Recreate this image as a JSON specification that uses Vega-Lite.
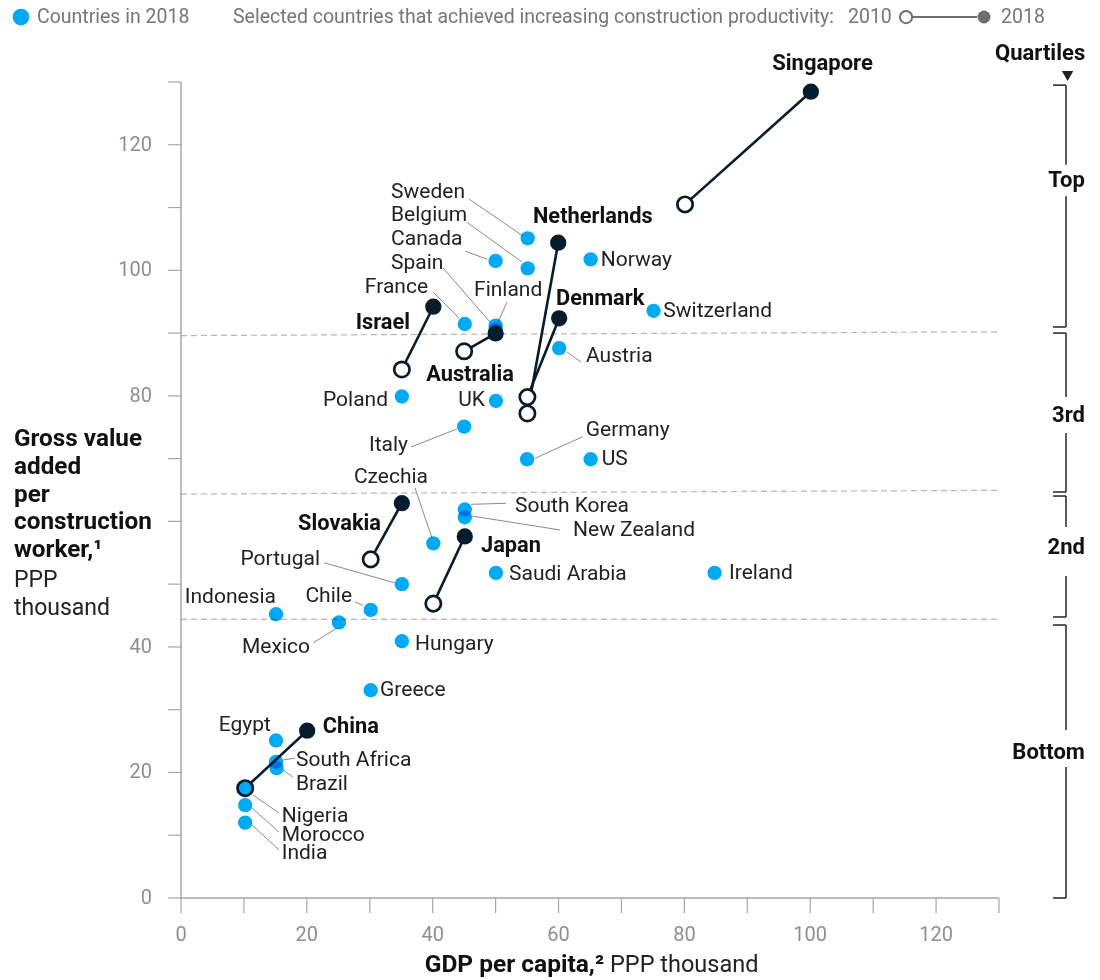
{
  "$schema": "https://vega.github.io/schema/vega-lite/v6.json",
  "width": 818,
  "height": 816,
  "autosize": {"type": "none"},
  "padding": {"left": 181, "top": 82, "right": 101, "bottom": 82},
  "background": "white",
  "config": {"view": {"stroke": null}, "font": "Roboto"},
  "datasets": {
    "ticks": [
      {"v": 0}, {"v": 10}, {"v": 20}, {"v": 30}, {"v": 40}, {"v": 50}, {"v": 60},
      {"v": 70}, {"v": 80}, {"v": 90}, {"v": 100}, {"v": 110}, {"v": 120}, {"v": 130}
    ],
    "blue": [
      {"country": "Sweden", "x": 55.1, "y": 105.1},
      {"country": "Belgium", "x": 55.1, "y": 100.3},
      {"country": "Canada", "x": 50.0, "y": 101.5},
      {"country": "Norway", "x": 65.1, "y": 101.75},
      {"country": "Switzerland", "x": 75.1, "y": 93.55},
      {"country": "France", "x": 45.1, "y": 91.45},
      {"country": "Finland", "x": 50.0, "y": 91.2},
      {"country": "Spain", "x": 50.0, "y": 90.6},
      {"country": "Austria", "x": 60.1, "y": 87.6},
      {"country": "Poland", "x": 35.1, "y": 79.9},
      {"country": "UK", "x": 50.05, "y": 79.2},
      {"country": "Italy", "x": 45.0, "y": 75.1},
      {"country": "Germany", "x": 55.0, "y": 69.9},
      {"country": "US", "x": 65.1, "y": 69.9},
      {"country": "South Korea", "x": 45.1, "y": 61.9},
      {"country": "New Zealand", "x": 45.1, "y": 60.65},
      {"country": "Czechia", "x": 40.1, "y": 56.5},
      {"country": "Portugal", "x": 35.1, "y": 50.0},
      {"country": "Saudi Arabia", "x": 50.05, "y": 51.8},
      {"country": "Ireland", "x": 84.8, "y": 51.8},
      {"country": "Indonesia", "x": 15.1, "y": 45.2},
      {"country": "Chile", "x": 30.15, "y": 45.9},
      {"country": "Mexico", "x": 25.1, "y": 43.9},
      {"country": "Hungary", "x": 35.1, "y": 40.9},
      {"country": "Greece", "x": 30.15, "y": 33.1},
      {"country": "Egypt", "x": 15.1, "y": 25.1},
      {"country": "South Africa", "x": 15.1, "y": 21.7},
      {"country": "Brazil", "x": 15.2, "y": 20.7},
      {"country": "Nigeria", "x": 10.2, "y": 17.5},
      {"country": "Morocco", "x": 10.2, "y": 14.8},
      {"country": "India", "x": 10.2, "y": 12.0}
    ],
    "sel": [
      {"country": "Singapore", "x": 80.1, "y": 110.5, "x2": 100.1, "y2": 128.45},
      {"country": "Netherlands", "x": 55.05, "y": 77.2, "x2": 59.95, "y2": 104.4},
      {"country": "Denmark", "x": 55.05, "y": 79.8, "x2": 60.1, "y2": 92.35},
      {"country": "Israel", "x": 35.1, "y": 84.2, "x2": 40.1, "y2": 94.2},
      {"country": "Australia", "x": 45.0, "y": 87.1, "x2": 50.0, "y2": 89.95},
      {"country": "Slovakia", "x": 30.15, "y": 53.95, "x2": 35.1, "y2": 62.9},
      {"country": "Japan", "x": 40.1, "y": 46.9, "x2": 45.1, "y2": 57.6},
      {"country": "China", "x": 10.2, "y": 17.5, "x2": 20.05, "y2": 26.65}
    ],
    "labL": [
      {"t": "Norway", "x": 66.7, "y": 101.7},
      {"t": "Switzerland", "x": 76.65, "y": 93.5},
      {"t": "Austria", "x": 64.37, "y": 86.27},
      {"t": "Germany", "x": 64.32, "y": 74.48},
      {"t": "US", "x": 66.86, "y": 69.94},
      {"t": "South Korea", "x": 53.08, "y": 62.53},
      {"t": "New Zealand", "x": 62.3, "y": 58.55},
      {"t": "Saudi Arabia", "x": 52.13, "y": 51.62},
      {"t": "Ireland", "x": 87.1, "y": 51.8},
      {"t": "Hungary", "x": 37.19, "y": 40.39},
      {"t": "Greece", "x": 31.63, "y": 33.06},
      {"t": "South Africa", "x": 18.28, "y": 21.91},
      {"t": "Brazil", "x": 18.28, "y": 18.24},
      {"t": "Nigeria", "x": 16.0, "y": 13.14},
      {"t": "Morocco", "x": 16.0, "y": 10.04},
      {"t": "India", "x": 16.0, "y": 7.2},
      {"t": "Sweden", "x": 33.38, "y": 112.55},
      {"t": "Belgium", "x": 33.38, "y": 108.8},
      {"t": "Canada", "x": 33.38, "y": 104.99},
      {"t": "Spain", "x": 33.38, "y": 101.16},
      {"t": "Finland", "x": 46.57, "y": 96.86}
    ],
    "labR": [
      {"t": "France", "x": 39.26, "y": 97.34},
      {"t": "Poland", "x": 32.9, "y": 79.34},
      {"t": "UK", "x": 48.31, "y": 79.34},
      {"t": "Italy", "x": 36.08, "y": 72.17},
      {"t": "Portugal", "x": 22.09, "y": 53.93},
      {"t": "Chile", "x": 27.18, "y": 48.11},
      {"t": "Mexico", "x": 20.5, "y": 39.91},
      {"t": "Egypt", "x": 14.3, "y": 27.56},
      {"t": "Indonesia", "x": 15.1, "y": 48.03},
      {"t": "Czechia", "x": 39.26, "y": 67.07}
    ],
    "boldL": [
      {"t": "Netherlands", "x": 55.94, "y": 108.73},
      {"t": "Denmark", "x": 59.6, "y": 95.59},
      {"t": "Japan", "x": 47.68, "y": 56.16},
      {"t": "China", "x": 22.52, "y": 27.48}
    ],
    "boldR": [
      {"t": "Israel", "x": 36.4, "y": 91.76},
      {"t": "Australia", "x": 52.92, "y": 83.48},
      {"t": "Slovakia", "x": 31.79, "y": 59.82}
    ],
    "boldC": [
      {"t": "Singapore", "x": 101.95, "y": 133.0}
    ],
    "lead": [
      {"country": "Sweden", "x": 45.77, "y": 111.36, "x2": 54.35, "y2": 105.47},
      {"country": "Belgium", "x": 45.45, "y": 107.65, "x2": 54.2, "y2": 101.32},
      {"country": "Canada", "x": 45.14, "y": 103.07, "x2": 48.63, "y2": 101.77},
      {"country": "Spain", "x": 41.64, "y": 100.37, "x2": 49.11, "y2": 91.76},
      {"country": "France", "x": 40.05, "y": 96.54, "x2": 44.18, "y2": 92.4},
      {"country": "Finland", "x": 51.81, "y": 94.95, "x2": 50.38, "y2": 91.76},
      {"country": "Austria", "x": 63.57, "y": 85.39, "x2": 61.35, "y2": 86.98},
      {"country": "Italy", "x": 36.55, "y": 71.85, "x2": 43.86, "y2": 74.72},
      {"country": "Germany", "x": 63.84, "y": 73.49, "x2": 56.26, "y2": 70.05},
      {"country": "Czechia", "x": 37.19, "y": 65.32, "x2": 39.89, "y2": 57.35},
      {"country": "South Korea", "x": 51.65, "y": 62.88, "x2": 46.09, "y2": 62.72},
      {"country": "New Zealand", "x": 60.24, "y": 58.63, "x2": 46.2, "y2": 60.86},
      {"country": "Portugal", "x": 22.73, "y": 53.42, "x2": 34.01, "y2": 50.18},
      {"country": "Chile", "x": 27.65, "y": 47.2, "x2": 28.97, "y2": 46.57},
      {"country": "Mexico", "x": 21.03, "y": 40.67, "x2": 24.75, "y2": 42.97},
      {"country": "South Africa", "x": 18.12, "y": 22.3, "x2": 16.21, "y2": 21.98},
      {"country": "Brazil", "x": 17.8, "y": 19.28, "x2": 16.21, "y2": 20.39},
      {"country": "Nigeria", "x": 15.58, "y": 13.54, "x2": 11.44, "y2": 16.41},
      {"country": "Morocco", "x": 15.58, "y": 10.51, "x2": 11.28, "y2": 14.34},
      {"country": "India", "x": 15.58, "y": 7.65, "x2": 11.28, "y2": 11.63}
    ],
    "quart": [
      {"x": 0, "y": 89.6, "x2": 130, "y2": 90.2},
      {"x": 0, "y": 64.35, "x2": 130, "y2": 64.95},
      {"x": 0, "y": 44.4, "x2": 130, "y2": 44.4}
    ],
    "brk": [
      {"x": 140.65, "y": 129.5, "x2": 140.65, "y2": 116.8},
      {"x": 140.65, "y": 111.8, "x2": 140.65, "y2": 90.97},
      {"x": 140.65, "y": 90.0, "x2": 140.65, "y2": 79.8},
      {"x": 140.65, "y": 74.1, "x2": 140.65, "y2": 64.68},
      {"x": 140.65, "y": 64.04, "x2": 140.65, "y2": 59.1},
      {"x": 140.65, "y": 51.3, "x2": 140.65, "y2": 44.77},
      {"x": 140.65, "y": 43.49, "x2": 140.65, "y2": 26.76},
      {"x": 140.65, "y": 20.87, "x2": 140.65, "y2": 0},
      {"x": 138.59, "y": 129.5, "x2": 140.65, "y2": 129.5},
      {"x": 138.59, "y": 90.97, "x2": 140.65, "y2": 90.97},
      {"x": 138.59, "y": 90.0, "x2": 140.65, "y2": 90.0},
      {"x": 138.59, "y": 64.68, "x2": 140.65, "y2": 64.68},
      {"x": 138.59, "y": 64.04, "x2": 140.65, "y2": 64.04},
      {"x": 138.59, "y": 44.77, "x2": 140.65, "y2": 44.77},
      {"x": 138.59, "y": 43.49, "x2": 140.65, "y2": 43.49},
      {"x": 138.59, "y": 0, "x2": 140.65, "y2": 0}
    ],
    "brklab": [
      {"t": "Quartiles", "x": 143.7, "y": 134.6},
      {"t": "Top", "x": 143.65, "y": 114.4},
      {"t": "3rd", "x": 143.65, "y": 76.95},
      {"t": "2nd", "x": 143.65, "y": 55.9},
      {"t": "Bottom", "x": 143.65, "y": 23.3}
    ],
    "legtext": [
      {"t": "Countries in 2018", "x": -22.89, "y": 140.35},
      {"t": "Selected countries that achieved increasing construction productivity:", "x": 8.26, "y": 140.35},
      {"t": "2010", "x": 106.0, "y": 140.35},
      {"t": "2018", "x": 130.32, "y": 140.35}
    ]
  },
  "layer": [
    {
      "data": {"name": "quart"},
      "mark": {"type": "rule", "color": "#b5b5b5", "strokeWidth": 1.2, "strokeDash": [6, 4]},
      "encoding": {
        "x": {
          "field": "x", "type": "quantitative",
          "scale": {"domain": [0, 130], "nice": false, "zero": false},
          "axis": {
            "title": null,
            "values": [0, 10, 20, 30, 40, 50, 60, 70, 80, 90, 100, 110, 120, 130],
            "labelExpr": "datum.value % 20 == 0 ? datum.label : ''",
            "grid": false,
            "domainColor": "#a6a6a6", "domainWidth": 1.5,
            "tickColor": "#a6a6a6", "tickWidth": 1.2, "tickSize": 15,
            "labelFont": "Roboto", "labelFontSize": 20, "labelColor": "#8f8f8f",
            "labelPadding": 9, "labelFlush": false, "labelOverlap": false
          }
        },
        "y": {
          "field": "y", "type": "quantitative",
          "scale": {"domain": [0, 130], "nice": false, "zero": false},
          "axis": {
            "title": null,
            "values": [0, 10, 20, 30, 40, 50, 60, 70, 80, 90, 100, 110, 120, 130],
            "labelExpr": "datum.value % 20 == 0 && datum.value != 60 ? datum.label : ''",
            "grid": false,
            "domainColor": "#a6a6a6", "domainWidth": 1.5,
            "tickColor": "#a6a6a6", "tickWidth": 1.2, "tickSize": 13,
            "labelFont": "Roboto", "labelFontSize": 20, "labelColor": "#8f8f8f",
            "labelPadding": 16, "labelFlush": false, "labelOverlap": false
          }
        },
        "x2": {"field": "x2"},
        "y2": {"field": "y2"}
      }
    },
    {
      "data": {"values": [{"a": 0}]},
      "mark": {"type": "rule", "color": "#a6a6a6", "strokeWidth": 1.5},
      "encoding": {
        "x": {"datum": 0, "type": "quantitative", "axis": null},
        "y": {"datum": 0, "type": "quantitative", "axis": null},
        "y2": {"datum": 130}
      }
    },
    {
      "data": {"values": [{"a": 0}]},
      "mark": {"type": "rule", "color": "#a6a6a6", "strokeWidth": 1.5},
      "encoding": {
        "x": {"datum": 0, "type": "quantitative", "axis": null},
        "x2": {"datum": 130},
        "y": {"datum": 0, "type": "quantitative", "axis": null}
      }
    },
    {
      "data": {"name": "ticks"},
      "mark": {"type": "rule", "color": "#a6a6a6", "strokeWidth": 1.2, "xOffset": -13},
      "encoding": {
        "x": {"datum": 0, "type": "quantitative", "axis": null},
        "x2": {"datum": 0},
        "y": {"field": "v", "type": "quantitative", "axis": null}
      }
    },
    {
      "data": {"name": "ticks"},
      "mark": {"type": "rule", "color": "#a6a6a6", "strokeWidth": 1.2, "y2Offset": 15},
      "encoding": {
        "x": {"field": "v", "type": "quantitative", "axis": null},
        "y": {"datum": 0, "type": "quantitative", "axis": null},
        "y2": {"datum": 0}
      }
    },
    {
      "data": {"name": "ticks"},
      "transform": [{"filter": "datum.v % 20 == 0 && datum.v != 60"}],
      "mark": {"type": "text", "align": "right", "baseline": "middle", "dx": -29, "font": "Roboto", "fontSize": 20, "color": "#8f8f8f"},
      "encoding": {
        "x": {"datum": 0, "type": "quantitative", "axis": null},
        "y": {"field": "v", "type": "quantitative", "axis": null},
        "text": {"field": "v", "type": "quantitative"}
      }
    },
    {
      "data": {"name": "ticks"},
      "transform": [{"filter": "datum.v % 20 == 0"}],
      "mark": {"type": "text", "align": "center", "baseline": "middle", "dy": 37, "font": "Roboto", "fontSize": 20, "color": "#8f8f8f"},
      "encoding": {
        "x": {"field": "v", "type": "quantitative", "axis": null},
        "y": {"datum": 0, "type": "quantitative", "axis": null},
        "text": {"field": "v", "type": "quantitative"}
      }
    },
    {
      "data": {"name": "lead"},
      "mark": {"type": "rule", "color": "#8a8a8a", "strokeWidth": 1},
      "encoding": {
        "x": {"field": "x", "type": "quantitative", "axis": null},
        "y": {"field": "y", "type": "quantitative", "axis": null},
        "x2": {"field": "x2"}, "y2": {"field": "y2"}
      }
    },
    {
      "data": {"name": "sel"},
      "mark": {"type": "rule", "color": "#051c2c", "strokeWidth": 2.6},
      "encoding": {
        "x": {"field": "x", "type": "quantitative", "axis": null},
        "y": {"field": "y", "type": "quantitative", "axis": null},
        "x2": {"field": "x2"}, "y2": {"field": "y2"}
      }
    },
    {
      "data": {"name": "sel"},
      "mark": {"type": "circle", "size": 235, "fill": "white", "stroke": "#051c2c", "strokeWidth": 2.7, "opacity": 1, "fillOpacity": 1},
      "encoding": {
        "x": {"field": "x", "type": "quantitative", "axis": null},
        "y": {"field": "y", "type": "quantitative", "axis": null}
      }
    },
    {
      "data": {"name": "blue"},
      "mark": {"type": "circle", "size": 205, "color": "#00a9f4", "opacity": 1, "blend": "multiply"},
      "encoding": {
        "x": {"field": "x", "type": "quantitative", "axis": null},
        "y": {"field": "y", "type": "quantitative", "axis": null}
      }
    },
    {
      "data": {"name": "sel"},
      "mark": {"type": "circle", "size": 265, "color": "#051c2c", "opacity": 1},
      "encoding": {
        "x": {"field": "x2", "type": "quantitative", "axis": null},
        "y": {"field": "y2", "type": "quantitative", "axis": null}
      }
    },
    {
      "data": {"name": "labL"},
      "mark": {"type": "text", "align": "left", "baseline": "middle", "font": "Roboto", "fontSize": 21, "color": "#222222"},
      "encoding": {
        "x": {"field": "x", "type": "quantitative", "axis": null},
        "y": {"field": "y", "type": "quantitative", "axis": null},
        "text": {"field": "t"}
      }
    },
    {
      "data": {"name": "labR"},
      "mark": {"type": "text", "align": "right", "baseline": "middle", "font": "Roboto", "fontSize": 21, "color": "#222222"},
      "encoding": {
        "x": {"field": "x", "type": "quantitative", "axis": null},
        "y": {"field": "y", "type": "quantitative", "axis": null},
        "text": {"field": "t"}
      }
    },
    {
      "data": {"name": "boldL"},
      "mark": {"type": "text", "align": "left", "baseline": "middle", "font": "Roboto", "fontWeight": "bold", "fontSize": 21.8, "color": "#111111"},
      "encoding": {
        "x": {"field": "x", "type": "quantitative", "axis": null},
        "y": {"field": "y", "type": "quantitative", "axis": null},
        "text": {"field": "t"}
      }
    },
    {
      "data": {"name": "boldR"},
      "mark": {"type": "text", "align": "right", "baseline": "middle", "font": "Roboto", "fontWeight": "bold", "fontSize": 21.8, "color": "#111111"},
      "encoding": {
        "x": {"field": "x", "type": "quantitative", "axis": null},
        "y": {"field": "y", "type": "quantitative", "axis": null},
        "text": {"field": "t"}
      }
    },
    {
      "data": {"name": "boldC"},
      "mark": {"type": "text", "align": "center", "baseline": "middle", "font": "Roboto", "fontWeight": "bold", "fontSize": 22, "color": "#111111"},
      "encoding": {
        "x": {"field": "x", "type": "quantitative", "axis": null},
        "y": {"field": "y", "type": "quantitative", "axis": null},
        "text": {"field": "t"}
      }
    },
    {
      "data": {"values": [{"t": "Gross value\nadded\nper\nconstruction\nworker,¹", "x": -26.54, "y": 72.01}]},
      "mark": {"type": "text", "align": "left", "baseline": "alphabetic", "lineBreak": "\n", "lineHeight": 27.8, "font": "Roboto", "fontWeight": "bold", "fontSize": 24.3, "color": "#111111"},
      "encoding": {
        "x": {"field": "x", "type": "quantitative", "axis": null},
        "y": {"field": "y", "type": "quantitative", "axis": null},
        "text": {"field": "t"}
      }
    },
    {
      "data": {"values": [{"t": "PPP\nthousand", "x": -26.54, "y": 49.55}]},
      "mark": {"type": "text", "align": "left", "baseline": "alphabetic", "lineBreak": "\n", "lineHeight": 27.8, "font": "Roboto", "fontSize": 23, "color": "#222222"},
      "encoding": {
        "x": {"field": "x", "type": "quantitative", "axis": null},
        "y": {"field": "y", "type": "quantitative", "axis": null},
        "text": {"field": "t"}
      }
    },
    {
      "data": {"values": [{"t": "GDP per capita,²", "x": 67.23, "y": -10.67}]},
      "mark": {"type": "text", "align": "right", "baseline": "middle", "font": "Roboto", "fontWeight": "bold", "fontSize": 24.5, "color": "#111111"},
      "encoding": {
        "x": {"field": "x", "type": "quantitative", "axis": null},
        "y": {"field": "y", "type": "quantitative", "axis": null},
        "text": {"field": "t"}
      }
    },
    {
      "data": {"values": [{"t": "PPP thousand", "x": 68.18, "y": -10.67}]},
      "mark": {"type": "text", "align": "left", "baseline": "middle", "font": "Roboto", "fontSize": 23.5, "color": "#222222"},
      "encoding": {
        "x": {"field": "x", "type": "quantitative", "axis": null},
        "y": {"field": "y", "type": "quantitative", "axis": null},
        "text": {"field": "t"}
      }
    },
    {
      "data": {"values": [{"x": -25.43, "y": 140.35}]},
      "mark": {"type": "circle", "size": 280, "color": "#00a9f4", "opacity": 1},
      "encoding": {
        "x": {"field": "x", "type": "quantitative", "axis": null},
        "y": {"field": "y", "type": "quantitative", "axis": null}
      }
    },
    {
      "data": {"values": [{"x": 116.34, "x2": 126.51, "y": 140.35}]},
      "mark": {"type": "rule", "color": "#6e6e6e", "strokeWidth": 2},
      "encoding": {
        "x": {"field": "x", "type": "quantitative", "axis": null},
        "y": {"field": "y", "type": "quantitative", "axis": null},
        "x2": {"field": "x2"}
      }
    },
    {
      "data": {"values": [{"x": 115.23, "y": 140.35}]},
      "mark": {"type": "circle", "size": 150, "fill": "white", "stroke": "#6e6e6e", "strokeWidth": 2, "opacity": 1, "fillOpacity": 1},
      "encoding": {
        "x": {"field": "x", "type": "quantitative", "axis": null},
        "y": {"field": "y", "type": "quantitative", "axis": null}
      }
    },
    {
      "data": {"values": [{"x": 127.62, "y": 140.35}]},
      "mark": {"type": "circle", "size": 165, "color": "#6e6e6e", "opacity": 1},
      "encoding": {
        "x": {"field": "x", "type": "quantitative", "axis": null},
        "y": {"field": "y", "type": "quantitative", "axis": null}
      }
    },
    {
      "data": {"name": "legtext"},
      "mark": {"type": "text", "align": "left", "baseline": "middle", "font": "Roboto", "fontSize": 19.5, "color": "#767676"},
      "encoding": {
        "x": {"field": "x", "type": "quantitative", "axis": null},
        "y": {"field": "y", "type": "quantitative", "axis": null},
        "text": {"field": "t"}
      }
    },
    {
      "data": {"name": "brk"},
      "mark": {"type": "rule", "color": "#222222", "strokeWidth": 1.5},
      "encoding": {
        "x": {"field": "x", "type": "quantitative", "axis": null},
        "y": {"field": "y", "type": "quantitative", "axis": null},
        "x2": {"field": "x2"}, "y2": {"field": "y2"}
      }
    },
    {
      "data": {"name": "brklab"},
      "mark": {"type": "text", "align": "right", "baseline": "middle", "font": "Roboto", "fontWeight": "bold", "fontSize": 22, "color": "#111111"},
      "encoding": {
        "x": {"field": "x", "type": "quantitative", "axis": null},
        "y": {"field": "y", "type": "quantitative", "axis": null},
        "text": {"field": "t"}
      }
    },
    {
      "data": {"values": [{"x": 140.9, "y": 130.96}]},
      "mark": {"type": "point", "shape": "triangle-down", "size": 130, "filled": true, "color": "#222222", "opacity": 1},
      "encoding": {
        "x": {"field": "x", "type": "quantitative", "axis": null},
        "y": {"field": "y", "type": "quantitative", "axis": null}
      }
    }
  ]
}
